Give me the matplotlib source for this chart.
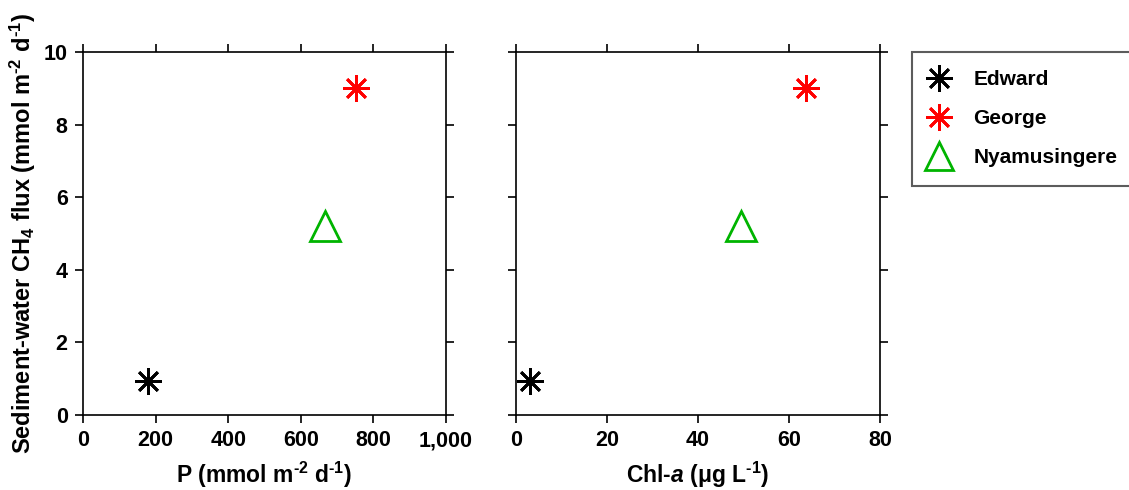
import matplotlib
matplotlib.use("Agg")
import matplotlib.pyplot as plt
from matplotlib.lines import Line2D

plt.rcParams['font.family'] = ['Liberation Sans', 'DejaVu Sans']
plt.rcParams['font.weight'] = 'bold'
plt.rcParams['mathtext.fontset'] = 'custom'
plt.rcParams['mathtext.rm'] = 'Liberation Sans:bold'
plt.rcParams['mathtext.bf'] = 'Liberation Sans:bold'
plt.rcParams['mathtext.it'] = 'Liberation Sans:italic:bold'

# data
lakes = ["Edward", "George", "Nyamusingere"]
p_flux = [180, 752, 667]          # P (mmol m-2 d-1)
chla = [3.1, 63.7, 49.5]          # Chl-a (ug L-1)
ch4_flux = [0.95, 9.0, 5.2]       # sediment-water CH4 flux

p_ticks = [0, 200, 400, 600, 800, 1000]
p_labels = ["0", "200", "400", "600", "800", "1,000"]
chl_ticks = [0, 20, 40, 60, 80]
y_ticks = [0, 2, 4, 6, 8, 10]

colors = ["black", "#ff0000", "#00b400"]
markers = [(8, 2, 0), (8, 2, 0), "^"]
sizes = [19, 19, 21]

fig = plt.figure(figsize=(11.29, 4.9), dpi=100)
ax1 = fig.add_axes([0.0735, 0.153, 0.3215, 0.741])
ax2 = fig.add_axes([0.457, 0.153, 0.3225, 0.741])


def draw(ax, xs):
    for i in range(len(lakes)):
        if markers[i] == "^":
            ax.plot(xs[i], ch4_flux[i], marker="^", ms=sizes[i], mfc="none",
                    mec=colors[i], mew=2, ls="none", clip_on=False)
        else:
            ax.plot(xs[i], ch4_flux[i], marker=markers[i], ms=sizes[i],
                    mec=colors[i], mew=2, ls="none", clip_on=False)
    for s in ax.spines.values():
        s.set_linewidth(1.2)
    ax.tick_params(direction="out", top=True, right=True, length=6, width=1.2,
                   labelsize=15.5, pad=5)
    ax.set_ylim(0, 10)
    ax.set_yticks(y_ticks)


sup2 = "$^{\\text{-2}}$"
sup1 = "$^{\\text{-1}}$"

draw(ax1, p_flux)
ax1.set_xlim(0, 1000)
ax1.set_xticks(p_ticks)
ax1.set_xticklabels(p_labels)
ax1.set_xlabel("P (mmol m" + sup2 + " d" + sup1 + ")", fontsize=16.5,
               fontweight="bold", labelpad=6)
ax1.set_ylabel("Sediment-water CH$_4$ flux (mmol m" + sup2 + " d" + sup1 + ")",
               fontsize=17, fontweight="bold", labelpad=4)

draw(ax2, chla)
ax2.set_xlim(0, 80)
ax2.set_xticks(chl_ticks)
ax2.set_yticklabels([])
ax2.set_xlabel("Chl-$\\it{a}$ (μg L" + sup1 + ")", fontsize=16.5,
               fontweight="bold", labelpad=6)

handles = []
for i in range(len(lakes)):
    if markers[i] == "^":
        h = Line2D([], [], marker="^", ms=20, mfc="none", mec=colors[i], mew=2, ls="none")
    else:
        h = Line2D([], [], marker=markers[i], ms=19, mec=colors[i], mew=2, ls="none")
    handles.append(h)
leg = fig.legend(handles, lakes, loc="upper left", bbox_to_anchor=(0.808, 0.894),
                 fontsize=15, frameon=True, fancybox=False, borderpad=0.87,
                 labelspacing=0.97, handlelength=0.87, handletextpad=1.2,
                 borderaxespad=0)
leg.get_frame().set_edgecolor("#333333")
leg.get_frame().set_linewidth(1.5)
for t in leg.get_texts():
    t.set_fontweight("bold")

fig.savefig("out.png", dpi=100)
